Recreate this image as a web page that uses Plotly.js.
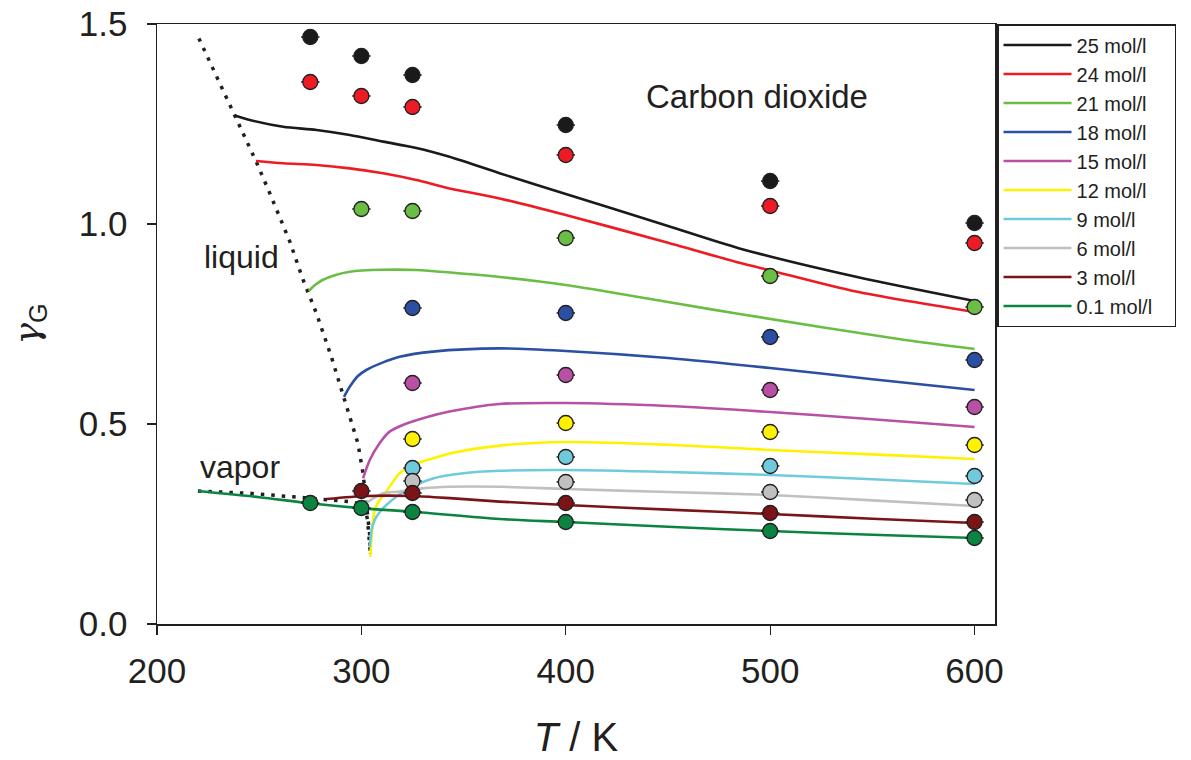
<!DOCTYPE html>
<html>
<head>
<meta charset="utf-8">
<script src="https://cdn.plot.ly/plotly-3.0.1.min.js"></script>
<style>html,body{margin:0;padding:0;background:#fff;}#chart{width:1191px;height:760px;}</style>
</head>
<body>
<div id="chart"></div>
<script>
// ---- series labels and colours ----
const seriesNames = ["25 mol/l","24 mol/l","21 mol/l","18 mol/l","15 mol/l","12 mol/l","9 mol/l","6 mol/l","3 mol/l","0.1 mol/l"];
const seriesColors = ["#1a1a1a","#ed1c24","#6abd45","#2b4fa2","#b851a5","#fff200","#6fcbdc","#c0c0c0","#7a1416","#0a8440"];

// ---- model curves (T in K, gamma_G) ----
const modelT_25 = [238.1,245.4,261.7,278,294.3,310.6,326.9,343.1,367.6,400,450,485,542,600];
const modelG_25 = [1.271,1.26,1.243,1.235,1.2225,1.206,1.19,1.168,1.127,1.075,0.995,0.939,0.868,0.8075];
const modelT_24 = [248.4,261.7,278,294.3,310.6,326.9,343.1,367.6,400,450,485,500,542,600];
const modelG_24 = [1.1575,1.1517,1.1475,1.139,1.1267,1.11,1.089,1.064,1.0225,0.953,0.903,0.884,0.831,0.78];
const modelT_21 = [274.3,277,281,287,294.3,310,327,345,367.6,400,450,485,566,600];
const modelG_21 = [0.8325,0.846,0.86,0.872,0.8808,0.8855,0.885,0.878,0.8675,0.8475,0.805,0.775,0.71,0.6875];
const modelT_18 = [291.5,294.3,298.3,302.4,310.6,318.7,335,367.6,400,450,500,550,600];
const modelG_18 = [0.568,0.593,0.62,0.635,0.654,0.668,0.681,0.689,0.6825,0.665,0.64,0.612,0.585];
const modelT_15 = [300.8,304.1,308.9,313.8,320.3,331.8,343.1,367.6,400,450,500,550,600];
const modelG_15 = [0.364,0.41,0.452,0.481,0.4975,0.5167,0.531,0.55,0.5525,0.545,0.53,0.512,0.4925];
const modelT_12 = [304.4,305,306.5,309,312.2,318.7,326,335,345,367.6,400,450,500,550,600];
const modelG_12 = [0.168,0.22,0.285,0.31,0.331,0.377,0.399,0.414,0.428,0.446,0.455,0.448,0.435,0.424,0.4125];
const modelT_9 = [304.1,305,306.5,309,312.2,322,335,350,367.6,400,450,500,550,600];
const modelG_9 = [0.193,0.235,0.26,0.28,0.2975,0.335,0.364,0.377,0.383,0.385,0.38,0.3725,0.362,0.35];
const modelT_6 = [302.5,310.6,318.7,330,343.1,367.6,400,450,500,550,600];
const modelG_6 = [0.303,0.3267,0.331,0.339,0.343,0.343,0.3375,0.33,0.3225,0.309,0.295];
const modelT_3 = [282.9,302.4,325,345,367.6,400,450,500,550,600];
const modelG_3 = [0.3125,0.32,0.32,0.314,0.306,0.2975,0.286,0.275,0.263,0.2525];
const modelT_01 = [220.2,250,274.7,300.8,325.2,367.6,400,450,500,550,600];
const modelG_01 = [0.3325,0.317,0.3017,0.289,0.2808,0.2625,0.255,0.243,0.2325,0.223,0.215];

// ---- experimental points ----
const expT_25 = [275,300,325,400,500,600];
const expG_25 = [1.4675,1.42,1.3725,1.2475,1.1075,1.0025];
const expT_24 = [275,300,325,400,500,600];
const expG_24 = [1.355,1.32,1.2925,1.1725,1.045,0.9525];
const expT_21 = [300,325,400,500,600];
const expG_21 = [1.0375,1.0325,0.965,0.87,0.7925];
const expT_18 = [325,400,500,600];
const expG_18 = [0.79,0.7775,0.7175,0.66];
const expT_15 = [325,400,500,600];
const expG_15 = [0.6025,0.6225,0.585,0.5425];
const expT_12 = [325,400,500,600];
const expG_12 = [0.4625,0.5025,0.48,0.4475];
const expT_9 = [325,400,500,600];
const expG_9 = [0.39,0.4175,0.395,0.37];
const expT_6 = [325,400,500,600];
const expG_6 = [0.3575,0.355,0.33,0.31];
const expT_3 = [300,325,400,500,600];
const expG_3 = [0.3325,0.3275,0.3025,0.2775,0.255];
const expT_01 = [275,300,325,400,500,600];
const expG_01 = [0.3025,0.29,0.28,0.255,0.2325,0.215];

// ---- saturation boundary ----
const satLiqT = [220.5,238.1,248.4,255.2,265,271.5,278,285.3,291.5,294.3,298.3,300.8,302.4,304,304.4];
const satLiqG = [1.464,1.271,1.1575,1.0767,0.956,0.86,0.7767,0.668,0.568,0.518,0.4517,0.3767,0.31,0.2267,0.1767];
const satVapT = [220,245.4,266.6,279.6,294.3,301.6,303,304.4];
const satVapG = [0.3325,0.3267,0.318,0.3125,0.306,0.2975,0.26,0.1767];

// ---- tick labels ----
const xTicks = [200,300,400,500,600];
const yTicks = [0.0,0.5,1.0,1.5];
const yTickText = ["0.0","0.5","1.0","1.5"];

const modelT = [modelT_25,modelT_24,modelT_21,modelT_18,modelT_15,modelT_12,modelT_9,modelT_6,modelT_3,modelT_01];
const modelG = [modelG_25,modelG_24,modelG_21,modelG_18,modelG_15,modelG_12,modelG_9,modelG_6,modelG_3,modelG_01];
const expT = [expT_25,expT_24,expT_21,expT_18,expT_15,expT_12,expT_9,expT_6,expT_3,expT_01];
const expG = [expG_25,expG_24,expG_21,expG_18,expG_15,expG_12,expG_9,expG_6,expG_3,expG_01];

const FONT = "Liberation Sans, Arial, Helvetica, sans-serif";
const INK = "#231f20";
const traces = [];

// saturation dotted lines
traces.push({x: satLiqT, y: satLiqG, mode: "lines", showlegend: false, hoverinfo: "skip",
  line: {color: INK, width: 3.5, dash: "3.5px,7px"}});
traces.push({x: satVapT, y: satVapG, mode: "lines", showlegend: false, hoverinfo: "skip",
  line: {color: INK, width: 3.5, dash: "3.5px,7px"}});

// widest legend entry padded with no-break spaces so the legend box matches the reference width
const legendPad = "\u00a0\u00a0\u00a0";
for (let i = 0; i < seriesNames.length; i++) {
  const nm = (i === seriesNames.length - 1) ? seriesNames[i] + legendPad : seriesNames[i];
  traces.push({x: modelT[i], y: modelG[i], mode: "lines", name: nm,
    line: {color: seriesColors[i], width: 2.6, shape: "spline", smoothing: 0.8}});
}
for (let i = 0; i < seriesNames.length; i++) {
  traces.push({x: expT[i], y: expG[i], mode: "markers", showlegend: false,
    marker: {color: seriesColors[i], size: 15, line: {color: INK, width: 1.3}},
    error_x: {type: "constant", value: 4.5, width: 0, thickness: 1.5, color: INK}});
}

const layout = {
  width: 1191, height: 760,
  margin: {l: 157, r: 196, t: 24, b: 136},
  paper_bgcolor: "#fff", plot_bgcolor: "#fff",
  font: {family: FONT, color: INK},
  showlegend: true,
  xaxis: {
    range: [200, 610], tickvals: xTicks, ticktext: xTicks.map(String),
    showgrid: false, zeroline: false, showline: true, mirror: true,
    linecolor: INK, linewidth: 1.5, ticks: "outside", ticklen: 9, tickwidth: 1.3, tickcolor: INK,
    tickfont: {size: 35, family: FONT, color: INK}, ticklabelstandoff: 6,
    title: {text: "<i>T</i> / K", font: {size: 40, family: FONT, color: INK}, standoff: 34}
  },
  yaxis: {
    range: [0, 1.5], tickvals: yTicks, ticktext: yTickText,
    showgrid: false, zeroline: false, showline: true, mirror: true,
    linecolor: INK, linewidth: 1.5, ticks: "outside", ticklen: 9, tickwidth: 1.3, tickcolor: INK,
    tickfont: {size: 35, family: FONT, color: INK}, ticklabelstandoff: 12,
    title: {text: '<span style="font-family:DejaVu Serif;font-style:italic">γ</span><sub>G</sub>',
            font: {size: 36, family: FONT, color: INK}, standoff: 28}
  },
  legend: {
    x: 1.0024, xanchor: "left", y: 1, yanchor: "top",
    bgcolor: "#fff", bordercolor: INK, borderwidth: 1.5,
    font: {size: 20, family: FONT, color: INK},
    itemwidth: 68, tracegroupgap: 0
  },
  annotations: [
    {x: 438.5, y: 1.318, xref: "x", yref: "y", text: "Carbon dioxide", showarrow: false,
     xanchor: "left", yanchor: "middle", font: {size: 33, family: FONT, color: INK}},
    {x: 221.8, y: 0.918, xref: "x", yref: "y", text: "liquid", showarrow: false,
     xanchor: "left", yanchor: "middle", font: {size: 32, family: FONT, color: INK}},
    {x: 220, y: 0.393, xref: "x", yref: "y", text: "vapor", showarrow: false,
     xanchor: "left", yanchor: "middle", font: {size: 32, family: FONT, color: INK}}
  ]
};

Plotly.newPlot("chart", traces, layout, {displayModeBar: false, staticPlot: true});
</script>
</body>
</html>
